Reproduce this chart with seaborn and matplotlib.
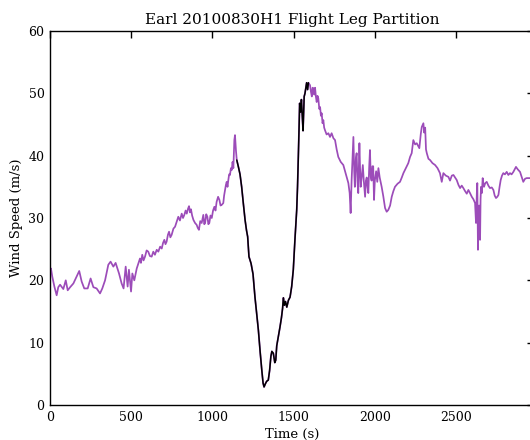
import matplotlib
matplotlib.use("Agg")
import matplotlib.pyplot as plt
import seaborn as sns
import pandas as pd

# ---- data ----
time_s = [
    0, 6, 14, 27, 41, 51, 62, 82, 97, 109, 124, 144, 164, 180, 195, 211, 232, 250, 267, 287,
    308, 322, 339, 359, 373, 390, 404, 425, 441, 453, 466, 478, 486, 499, 507, 519, 534,
    554, 560, 568, 576, 585, 595, 605, 615, 626, 636, 646, 657, 667, 678, 688, 696, 704, 711,
    718, 726, 733, 741, 749, 760, 770, 780, 790, 800, 811, 819, 827, 835, 842, 850, 856, 862,
    868, 875, 883, 893, 903, 910, 917, 925, 934, 944, 950, 955, 962, 969, 975, 981, 988, 996,
    1004, 1012, 1019, 1026, 1035, 1043, 1050, 1057, 1067, 1072, 1078, 1083, 1088, 1093, 1098,
    1103, 1108, 1114, 1119, 1124, 1129, 1135, 1139, 1145, 1150,
    1160, 1170, 1180, 1190, 1201, 1210, 1217, 1225, 1238, 1250, 1262, 1272, 1283, 1294, 1304,
    1312, 1318, 1326, 1334, 1344, 1352, 1360, 1366, 1375, 1384, 1390, 1396, 1406, 1416, 1425,
    1432, 1437, 1443, 1450, 1458, 1468, 1478, 1488, 1498, 1508, 1519, 1524, 1529, 1534, 1537,
    1543, 1548, 1553, 1558, 1565, 1570, 1580, 1586, 1591,
    1601, 1607, 1612, 1617, 1622, 1627, 1632, 1637, 1642, 1647, 1652, 1658, 1663, 1668, 1673,
    1678, 1683, 1688, 1693, 1703, 1714, 1724, 1734, 1745,
    1755, 1765, 1775, 1790, 1806, 1820, 1837, 1845, 1851, 1857, 1868, 1873, 1877, 1883, 1888,
    1893, 1898, 1905, 1909, 1913, 1919, 1926, 1932, 1940, 1945, 1950, 1955, 1960, 1965, 1970,
    1975, 1980, 1985, 1990, 1995, 2000, 2008, 2015, 2022, 2030, 2042, 2052, 2063, 2073, 2083,
    2094, 2104, 2114, 2124, 2140, 2155, 2166, 2176, 2191, 2206, 2217, 2227, 2237, 2248, 2258,
    2268, 2274, 2283, 2289, 2299, 2304, 2310, 2315, 2320, 2330, 2340, 2355, 2371, 2386, 2401,
    2412, 2422, 2437, 2453, 2463, 2474, 2484, 2494, 2504, 2515, 2525, 2535, 2545, 2556, 2566,
    2576, 2586, 2597, 2607, 2617, 2623, 2628, 2631, 2635, 2639, 2642, 2648, 2651, 2654, 2659,
    2664, 2668, 2672, 2680, 2689, 2699, 2709, 2720, 2730, 2738, 2746, 2754, 2761, 2768, 2775,
    2783, 2791, 2801, 2812, 2822, 2832, 2842, 2853, 2861, 2869, 2880, 2894, 2904, 2914, 2925,
    2935, 2945, 2955,
]
wind_speed = [
    21.5, 21.9, 20.6, 19.0, 17.6, 18.9, 19.3, 18.6, 20.0, 18.4, 18.9, 19.5, 20.6, 21.5, 19.8,
    18.7, 18.7, 20.3, 18.9, 18.7, 17.9, 18.7, 20.0, 22.5, 23.0, 22.2, 22.8, 21.1, 19.5, 18.7,
    22.2, 19.0, 21.7, 18.2, 21.1, 20.0, 21.9,
    23.5, 22.8, 24.1, 23.2, 23.8, 24.8, 24.6, 23.9, 23.8, 24.6, 24.1, 24.9, 24.6, 25.4, 25.1,
    26.0, 26.5, 25.8, 26.2, 27.3, 27.8, 26.9, 27.3, 28.3, 28.6, 29.4, 30.2, 29.6, 30.7, 30.0,
    30.5, 31.2, 30.7, 31.5, 31.9, 30.9, 31.4, 30.4, 29.7, 29.2, 28.9, 28.4, 28.1, 29.5, 29.2,
    30.5, 29.0, 29.2, 30.6, 30.2, 29.0, 29.2, 30.4, 30.0, 31.2, 31.8, 31.2, 32.6, 33.4, 32.9,
    32.0, 32.1, 32.4, 33.6, 34.5, 35.3, 35.8, 35.0, 36.1, 37.0, 36.9, 38.0, 37.7, 39.0, 38.0,
    42.5, 43.3, 40.8, 39.3,
    38.2, 37.0, 35.0, 32.4, 29.7, 28.0, 27.0, 23.8, 22.7, 21.0, 17.3, 14.8, 12.0, 8.5, 5.6,
    3.5, 2.9, 3.4, 3.8, 4.0, 5.5, 7.8, 8.6, 8.3, 6.8, 7.2, 9.5, 11.0, 12.5, 14.0,
    15.5, 17.2, 16.0, 16.6, 15.7, 16.8, 17.3, 19.0, 21.7, 26.5, 31.3, 35.0, 39.8, 45.0, 48.4,
    47.0, 49.0, 46.5, 44.0, 49.5, 50.0, 51.7, 50.6, 51.7,
    51.3, 50.2, 49.5, 50.9, 50.8, 49.8, 50.9, 49.5, 48.6, 49.6, 49.2, 47.5, 47.8, 46.4, 46.8,
    45.2, 45.7, 44.5, 44.1, 43.4, 43.6, 43.0, 43.6, 42.8,
    42.5, 41.0, 39.8, 39.0, 38.5, 37.2, 35.6, 34.0, 30.8, 36.0, 43.0, 37.5, 35.0, 39.5, 40.4,
    36.0, 34.0, 42.0, 38.0, 35.0, 36.5, 38.5, 36.0, 33.4, 36.0, 36.5, 35.0, 34.0, 38.0, 40.9,
    36.6, 36.0, 38.3, 38.3, 32.9, 36.0, 37.5, 35.8, 38.0, 36.5, 35.0, 33.5, 31.6, 31.0, 31.3,
    32.0, 33.4, 34.3, 35.0, 35.5, 35.8, 36.5, 37.2, 38.0, 38.8, 39.8, 40.4, 42.5, 41.8, 42.0,
    41.5, 41.2, 43.5, 44.6, 45.2, 43.7, 44.5, 41.0, 40.4, 39.5, 39.3, 38.8, 38.5, 38.0, 37.2,
    35.8, 37.2, 36.8, 36.6, 36.0, 36.8, 36.9, 36.5, 36.1, 35.3, 34.8, 35.2, 34.8, 34.3, 33.9,
    34.5, 34.0, 33.4, 33.0, 32.4, 29.2, 34.0, 35.6, 24.9, 30.0, 32.0, 26.5, 33.0, 35.0, 34.0,
    36.4, 35.5, 35.0, 35.6, 35.8, 35.2, 34.8, 34.9, 34.5, 33.6, 33.2, 33.4, 33.7, 35.0, 36.1,
    36.8, 37.2, 37.0, 37.4, 36.9, 37.2, 37.0, 37.4, 37.8, 38.2, 37.8, 37.4, 36.6, 35.8, 36.3,
    36.4, 36.4, 36.4,
]
leg_start = 1150   # partitioned (black) leg start, s
leg_end = 1591     # partitioned leg end, s

x_ticks = [0, 500, 1000, 1500, 2000, 2500]
y_ticks = [0, 10, 20, 30, 40, 50, 60]

# ---- style ----
sns.set_style("white")
plt.rcParams["font.family"] = ["DejaVu Serif"]
plt.rcParams["font.size"] = 9
plt.rcParams["text.color"] = "black"
plt.rcParams["axes.labelcolor"] = "black"

df = pd.DataFrame({"Time (s)": time_s, "Wind Speed (m/s)": wind_speed})
leg = df[(df["Time (s)"] >= leg_start) & (df["Time (s)"] <= leg_end)]

fig = plt.figure(figsize=(5.3, 4.4), dpi=100)
ax = fig.add_axes([50 / 530, 35 / 440, 484 / 530, 374 / 440])

sns.lineplot(data=df, x="Time (s)", y="Wind Speed (m/s)", ax=ax, color="#9c4cb9",
             linewidth=1.25, sort=False, estimator=None)
sns.lineplot(data=leg, x="Time (s)", y="Wind Speed (m/s)", ax=ax, color="black",
             linewidth=1.1, sort=False, estimator=None)

ax.set_xlim(0, 2980)
ax.set_ylim(0, 60)
ax.set_xticks(x_ticks)
ax.set_yticks(y_ticks)
ax.tick_params(direction="in", top=True, right=True, length=5, width=1,
               labelsize=9, pad=4, colors="black")
for s in ax.spines.values():
    s.set_color("black")
    s.set_linewidth(1)
ax.set_title("Earl 20100830H1 Flight Leg Partition", fontsize=11, pad=5, color="black")
ax.set_xlabel("Time (s)", fontsize=9.5, labelpad=3)
ax.set_ylabel("Wind Speed (m/s)", fontsize=9.5, labelpad=4)

fig.savefig("out.png", dpi=100)
